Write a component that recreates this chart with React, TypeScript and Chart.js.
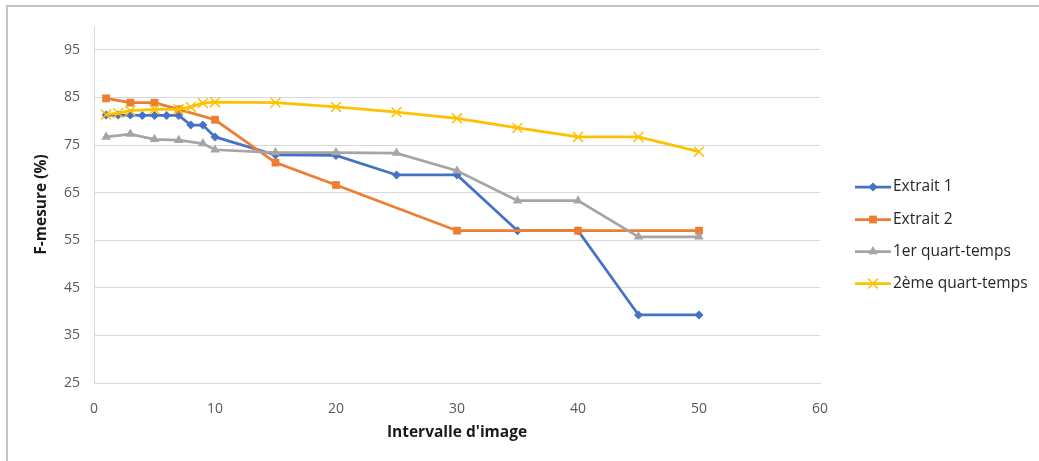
import React, { useEffect, useRef } from 'react';
import { Chart, registerables } from 'chart.js';

Chart.register(...registerables);

const seriesNames = ['Extrait 1', 'Extrait 2', '1er quart-temps', '2ème quart-temps'];
const seriesColors = ['#4472C4', '#ED7D31', '#A5A5A5', '#FFC000'];

const extrait1X = [1, 2, 3, 4, 5, 6, 7, 8, 9, 10, 15, 20, 25, 30, 35, 40, 45, 50];
const extrait1Y = [81.3, 81.3, 81.3, 81.2, 81.2, 81.2, 81.2, 79.2, 79.2, 76.7, 72.9, 72.8, 68.7, 68.7, 57.0, 57.0, 39.3, 39.3];

const extrait2X = [1, 3, 5, 7, 10, 15, 20, 30, 40, 50];
const extrait2Y = [84.8, 83.9, 83.9, 82.5, 80.3, 71.3, 66.6, 57.0, 57.0, 57.0];

const quart1X = [1, 3, 5, 7, 9, 10, 15, 20, 25, 30, 35, 40, 45, 50];
const quart1Y = [76.7, 77.3, 76.2, 76.0, 75.3, 74.0, 73.4, 73.4, 73.3, 69.6, 63.3, 63.3, 55.7, 55.7];

const quart2X = [1, 2, 3, 5, 7, 8, 9, 10, 15, 20, 25, 30, 35, 40, 45, 50];
const quart2Y = [81.4, 81.7, 82.2, 82.5, 82.5, 83.0, 83.8, 84.0, 83.9, 83.0, 81.9, 80.6, 78.6, 76.7, 76.7, 73.6];

const xTicks = [0, 10, 20, 30, 40, 50, 60];
const yTicks = [25, 35, 45, 55, 65, 75, 85, 95];

const xTitle = "Intervalle d'image";
const yTitle = 'F-mesure (%)';

const FONT = "'Open Sans', 'Liberation Sans', sans-serif";

const pointStyles = ['rectRot', 'rect', 'triangle', 'crossRot'];
const pointRadii = [4.5, 5.5, 5.5, 7];

function drawMarker(ctx: CanvasRenderingContext2D, style: string, x: number, y: number, r: number, color: string) {
  ctx.save();
  ctx.fillStyle = color;
  ctx.strokeStyle = color;
  ctx.beginPath();
  if (style === 'rectRot') {
    ctx.moveTo(x, y - r);
    ctx.lineTo(x + r, y);
    ctx.lineTo(x, y + r);
    ctx.lineTo(x - r, y);
    ctx.closePath();
    ctx.fill();
  } else if (style === 'rect') {
    const s = r * Math.SQRT1_2;
    ctx.rect(x - s, y - s, 2 * s, 2 * s);
    ctx.fill();
  } else if (style === 'triangle') {
    const a = (2 * Math.PI) / 3;
    ctx.moveTo(x, y - r);
    ctx.lineTo(x + Math.sin(a) * r, y - Math.cos(a) * r);
    ctx.lineTo(x - Math.sin(a) * r, y - Math.cos(a) * r);
    ctx.closePath();
    ctx.fill();
  } else {
    const d = r * Math.SQRT1_2;
    ctx.lineWidth = 1.5;
    ctx.moveTo(x - d, y - d);
    ctx.lineTo(x + d, y + d);
    ctx.moveTo(x - d, y + d);
    ctx.lineTo(x + d, y - d);
    ctx.stroke();
  }
  ctx.restore();
}

const legendPlugin = {
  id: 'customLegend',
  afterDraw(chart: any) {
    const ctx = chart.ctx as CanvasRenderingContext2D;
    const rows = [187, 219.5, 251.5, 283.5];
    ctx.save();
    seriesNames.forEach((name, i) => {
      const y = rows[i];
      ctx.strokeStyle = seriesColors[i];
      ctx.lineWidth = 2.75;
      ctx.beginPath();
      ctx.moveTo(855, y);
      ctx.lineTo(891, y);
      ctx.stroke();
      drawMarker(ctx, pointStyles[i], 873, y, pointRadii[i], seriesColors[i]);
      ctx.fillStyle = '#262626';
      ctx.font = `15.5px ${FONT}`;
      ctx.textBaseline = 'middle';
      ctx.textAlign = 'left';
      ctx.fillText(name, 893, y);
    });
    ctx.restore();
  },
};

function toPoints(xs: number[], ys: number[]) {
  return xs.map((x, i) => ({ x, y: ys[i] }));
}

export default function App() {
  const canvasRef = useRef<HTMLCanvasElement | null>(null);

  useEffect(() => {
    const canvas = canvasRef.current;
    if (!canvas) return;
    const data = [
      toPoints(extrait1X, extrait1Y),
      toPoints(extrait2X, extrait2Y),
      toPoints(quart1X, quart1Y),
      toPoints(quart2X, quart2Y),
    ];
    const chart = new Chart(canvas, {
      type: 'line',
      data: {
        datasets: data.map((d, i) => ({
          label: seriesNames[i],
          data: d,
          borderColor: seriesColors[i],
          backgroundColor: seriesColors[i],
          pointBackgroundColor: seriesColors[i],
          pointBorderColor: seriesColors[i],
          pointStyle: pointStyles[i] as any,
          pointRadius: pointRadii[i],
          pointBorderWidth: i === 3 ? 1.5 : 0,
          borderWidth: 2.75,
          tension: 0,
          fill: false,
          order: 4 - i,
        })),
      },
      options: {
        animation: false,
        responsive: false,
        maintainAspectRatio: false,
        devicePixelRatio: 1,
        layout: { padding: { left: 0, top: 26, right: 1039 - 820, bottom: 0 } },
        plugins: {
          legend: { display: false },
          tooltip: { enabled: false },
          title: { display: false },
        },
        scales: {
          x: {
            type: 'linear',
            min: 0,
            max: 60,
            afterBuildTicks: (s: any) => {
              s.ticks = xTicks.map((v) => ({ value: v }));
            },
            afterFit: (s: any) => {
              s.height = 78;
            },
            grid: { display: false, drawTicks: false },
            border: { display: true, color: '#d9d9d9', width: 1 },
            ticks: {
              padding: 18,
              color: '#595959',
              font: { family: FONT, size: 14 },
              maxRotation: 0,
              autoSkip: false,
            },
            title: {
              display: true,
              text: xTitle,
              color: '#1a1a1a',
              font: { family: FONT, size: 15.5, weight: 'bold' },
              padding: { top: 0, bottom: 19 },
            },
          },
          y: {
            type: 'linear',
            min: 25,
            max: 100,
            afterBuildTicks: (s: any) => {
              s.ticks = yTicks.map((v) => ({ value: v }));
            },
            afterFit: (s: any) => {
              s.width = 94;
            },
            grid: { color: '#d9d9d9', lineWidth: 1, drawTicks: false },
            border: { display: true, color: '#d9d9d9', width: 1 },
            ticks: {
              padding: 14,
              color: '#595959',
              font: { family: FONT, size: 14 },
            },
            title: {
              display: true,
              text: yTitle,
              color: '#1a1a1a',
              font: { family: FONT, size: 15.5, weight: 'bold' },
              padding: { top: 32, bottom: 0 },
            },
          },
        },
      },
      plugins: [legendPlugin],
    });
    return () => chart.destroy();
  }, []);

  return (
    <div style={{ position: 'fixed', left: 0, top: 0, width: 1039, height: 461, background: '#fff' }}>
      <div
        style={{
          position: 'absolute',
          left: 6,
          top: 5,
          right: 0,
          bottom: 0,
          borderTop: '2px solid #c4c4c4',
          borderLeft: '2px solid #c4c4c4',
        }}
      />
      <canvas
        ref={canvasRef}
        width={1039}
        height={461}
        style={{ position: 'absolute', left: 0, top: 0, width: 1039, height: 461 }}
      />
    </div>
  );
}
